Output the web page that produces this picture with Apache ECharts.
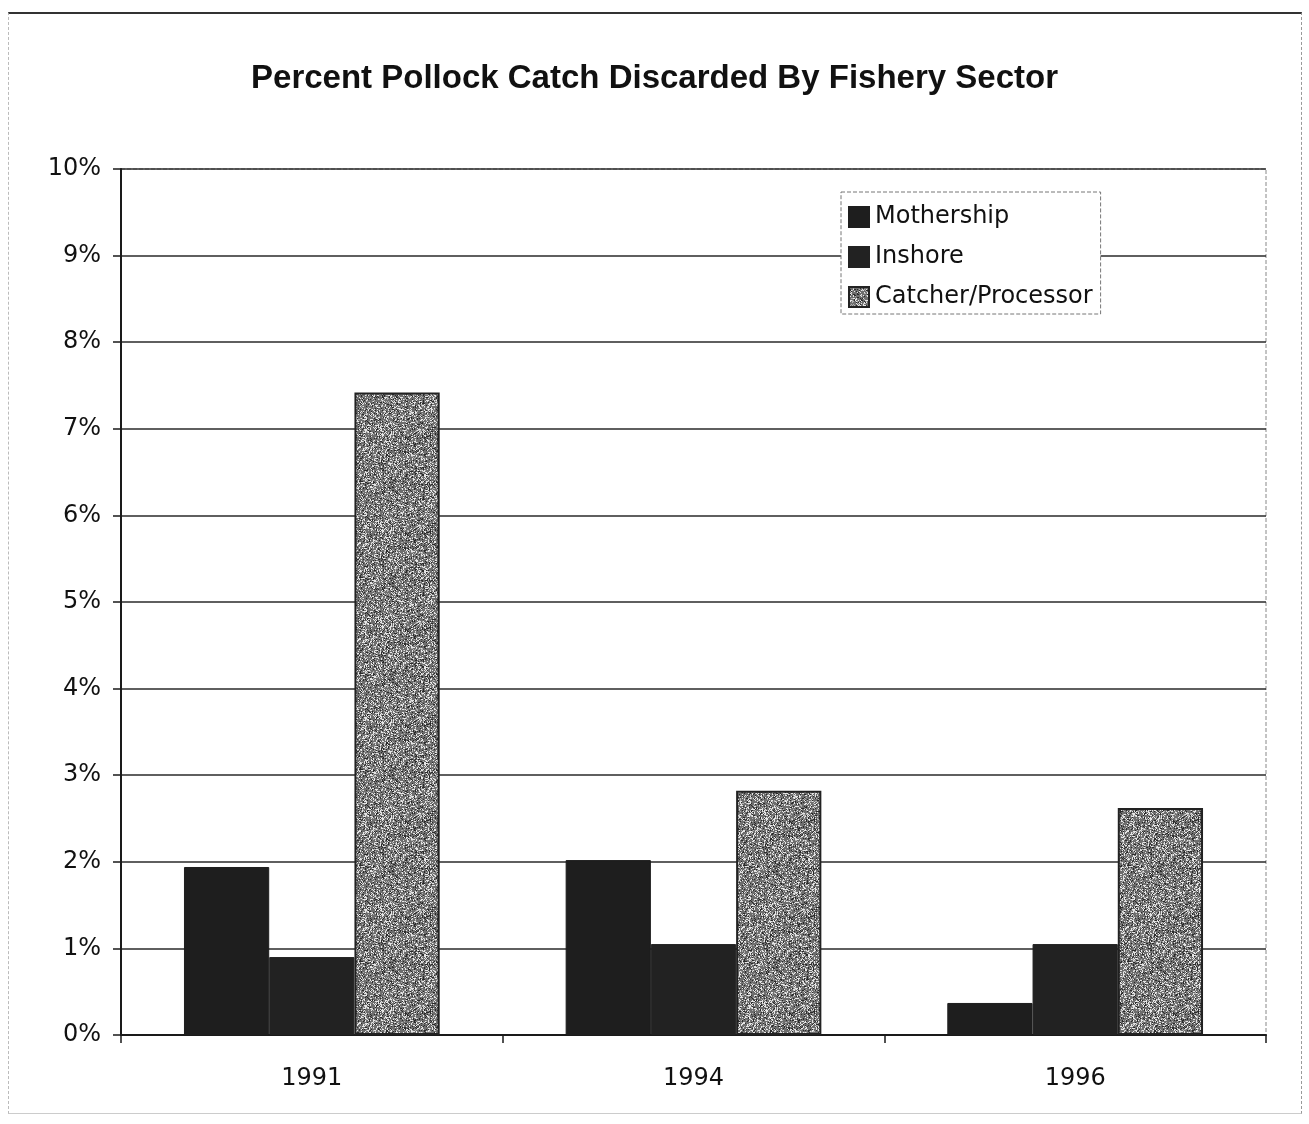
<!DOCTYPE html>
<html>
<head>
<meta charset="utf-8">
<script src="https://cdn.jsdelivr.net/npm/echarts@6/dist/echarts.min.js"></script>
<style>
  html, body { margin: 0; padding: 0; background: #fff; }
  #frame {
    position: absolute; left: 8px; top: 12px; width: 1294px; height: 1102px;
    border-top: 2px solid #333;
    border-left: 1px dashed #bbb;
    border-right: 1px dashed #999;
    border-bottom: 1px solid #ccc;
    box-sizing: border-box;
  }
  #chart { position: absolute; left: 0; top: 0; width: 1309px; height: 1124px; }
</style>
</head>
<body>
<div id="frame"></div>
<div id="chart"></div>
<script>
// Fishery sectors and years
const years = ['1991', '1994', '1996'];
const sectors = ['Mothership', 'Inshore', 'Catcher/Processor'];

// Percent of pollock catch discarded, per sector
const mothership = [1.94, 2.02, 0.37];
const inshore = [0.9, 1.05, 1.05];
const catcherProcessor = [7.42, 2.82, 2.62];

// Y-axis range and step, in percent
const yMin = 0;
const yMax = 10;
const yStep = 1;

// Speckled grey fill for the catcher/processor bars
function speckleTexture() {
  const size = 96;
  const c = document.createElement('canvas');
  c.width = size; c.height = size;
  const ctx = c.getContext('2d');
  ctx.fillStyle = '#6e6e6e';
  ctx.fillRect(0, 0, size, size);
  let s = 12345;
  const next = () => { s = (s * 1103515245 + 12345) & 0x7fffffff; return s / 0x7fffffff; };
  for (let i = 0; i < size * size * 0.55; i++) {
    const x = Math.floor(next() * size);
    const y = Math.floor(next() * size);
    const v = next();
    ctx.fillStyle = v < 0.45 ? '#e6e6e6' : (v < 0.7 ? '#b0b0b0' : '#2a2a2a');
    ctx.fillRect(x, y, 1, 1);
  }
  return c;
}

const chart = echarts.init(document.getElementById('chart'), null, { renderer: 'canvas' });

const titleFont = 'Liberation Sans, Arial, sans-serif';
const font = 'DejaVu Sans, sans-serif';

chart.setOption({
  animation: false,
  backgroundColor: 'transparent',
  title: {
    text: 'Percent Pollock Catch Discarded By Fishery Sector',
    left: 'center',
    top: 57,
    textStyle: { fontFamily: titleFont, fontSize: 33, fontWeight: 'bold', color: '#111' }
  },
  legend: {
    orient: 'vertical',
    left: 841,
    top: 192,
    padding: [13, 8, 5, 7],
    itemWidth: 20,
    itemHeight: 20,
    itemGap: 16,
    icon: 'rect',
    borderColor: '#777',
    borderWidth: 1,
    borderType: 'dashed',
    backgroundColor: '#fff',
    textStyle: { fontFamily: font, fontSize: 24, color: '#111', padding: [0, 0, 0, 1] },
    data: sectors
  },
  grid: {
    left: 121, right: 43, top: 169, bottom: 89,
    show: true,
    borderColor: '#888',
    borderWidth: 1,
    borderType: 'dashed'
  },
  xAxis: {
    type: 'category',
    data: years,
    axisLine: { lineStyle: { color: '#1a1a1a', width: 2 } },
    axisTick: { show: true, length: 8, lineStyle: { color: '#1a1a1a', width: 1.5 } },
    axisLabel: { fontFamily: font, fontSize: 24, color: '#111', margin: 32 }
  },
  yAxis: {
    type: 'value',
    min: yMin,
    max: yMax,
    interval: yStep,
    axisLine: { show: true, lineStyle: { color: '#1a1a1a', width: 2 } },
    axisTick: { show: true, length: 8, lineStyle: { color: '#1a1a1a', width: 1.5 } },
    axisLabel: {
      fontFamily: font, fontSize: 24, color: '#111', margin: 20,
      formatter: v => v + '%'
    },
    splitLine: { lineStyle: { color: '#2a2a2a', width: 1.5 } }
  },
  series: [
    {
      name: sectors[0], type: 'bar', data: mothership,
      barGap: '0%', barCategoryGap: '33%',
      itemStyle: { color: '#1e1e1e', borderColor: '#1e1e1e', borderWidth: 1 }
    },
    {
      name: sectors[1], type: 'bar', data: inshore,
      itemStyle: { color: '#222222', borderColor: '#222222', borderWidth: 1 }
    },
    {
      name: sectors[2], type: 'bar', data: catcherProcessor,
      itemStyle: {
        color: { image: speckleTexture(), repeat: 'repeat' },
        borderColor: '#222', borderWidth: 2
      }
    }
  ]
});
</script>
</body>
</html>
